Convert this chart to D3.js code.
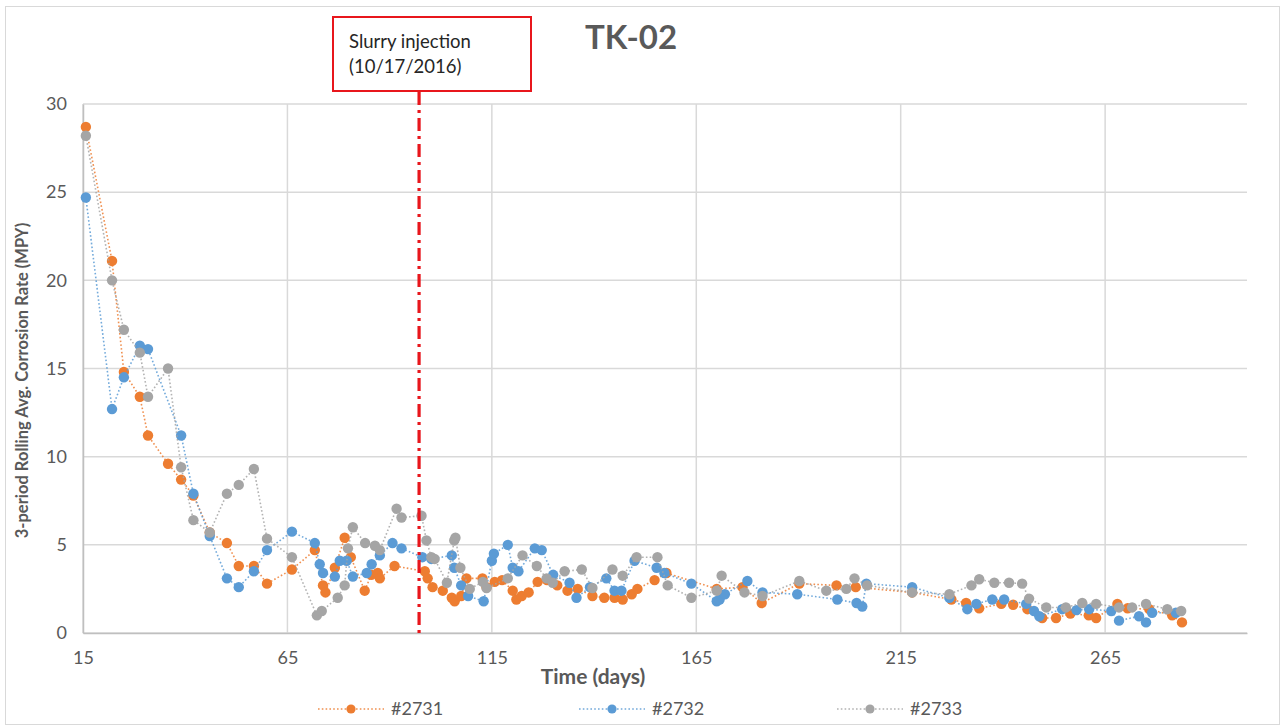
<!DOCTYPE html>
<html>
<head>
<meta charset="utf-8">
<script src="https://cdn.jsdelivr.net/npm/d3@7"></script>
<style>
  html, body { margin: 0; padding: 0; background: #fff; }
  text { font-family: Lato, "Open Sans", sans-serif; }
</style>
</head>
<body>
<svg id="chart" width="1285" height="726"></svg>
<script>
// Corrosion coupon readings, 3-period rolling average (MPY) against time in days
const seriesNames = ["#2731", "#2732", "#2733"];
const seriesColors = ["#ED7D31", "#5B9BD5", "#A5A5A5"];

const days2731 = [15.7,22.1,25.0,28.9,30.9,35.8,39.0,42.0,46.0,50.2,53.1,56.8,60.0,66.1,71.7,73.7,74.3,76.6,79.0,80.5,83.9,85.5,87.1,87.6,91.2,98.6,99.3,100.5,103.0,105.2,105.9,107.5,108.8,112.7,113.7,115.7,117.5,120.1,121.0,122.3,124.0,126.2,128.5,131.0,133.5,136.0,139.6,142.5,145.0,147.0,149.2,150.6,154.8,157.7,170.0,176.3,181.0,190.2,199.3,204.0,217.8,227.4,231.0,234.2,239.6,242.5,246.0,249.6,253.0,256.5,261.0,262.8,268.0,270.5,275.8,281.4,283.8];
const vals2731 = [28.7,21.1,14.8,13.4,11.2,9.6,8.7,7.8,5.7,5.1,3.8,3.8,2.8,3.6,4.7,2.7,2.3,3.7,5.4,4.3,2.4,3.3,3.4,3.1,3.8,3.5,3.1,2.6,2.4,2.0,1.8,2.1,3.1,3.1,2.6,2.9,3.0,2.4,1.9,2.1,2.3,2.9,3.0,2.7,2.4,2.5,2.1,2.0,2.0,1.9,2.2,2.5,3.0,3.4,2.5,2.6,1.7,2.8,2.7,2.6,2.3,1.9,1.7,1.4,1.65,1.6,1.35,0.85,0.85,1.1,1.0,0.85,1.65,1.4,1.35,1.0,0.6];

const days2732 = [15.7,22.1,25.0,28.9,30.9,39.0,42.0,46.0,50.2,53.1,56.8,60.0,66.1,71.7,72.9,73.7,76.6,77.8,79.5,81.0,84.4,85.6,87.6,90.7,92.9,98.0,100.2,105.2,105.8,107.5,109.2,113.0,115.0,115.5,118.9,120.1,121.5,125.5,127.2,130.0,134.0,135.7,139.0,143.0,145.0,146.7,149.9,155.3,157.2,163.8,170.0,170.7,172.0,177.5,181.2,189.7,199.5,204.2,205.6,206.6,217.8,226.9,231.3,233.5,237.4,240.3,245.7,247.6,248.9,254.5,258.0,261.1,266.5,268.4,273.3,275.0,276.5,282.3];
const vals2732 = [24.7,12.7,14.5,16.3,16.1,11.2,7.9,5.5,3.1,2.6,3.5,4.7,5.75,5.1,3.9,3.4,3.2,4.1,4.1,3.2,3.4,3.9,4.4,5.1,4.8,4.3,4.2,4.4,3.7,2.7,2.1,1.8,4.1,4.5,5.0,3.7,3.5,4.8,4.7,3.3,2.85,2.0,2.6,3.1,2.4,2.4,4.1,3.7,3.4,2.8,1.8,1.9,2.2,2.95,2.3,2.2,1.9,1.7,1.5,2.8,2.6,2.0,1.35,1.65,1.9,1.9,1.65,1.25,0.95,1.35,1.3,1.35,1.25,0.7,0.95,0.6,1.15,1.15];

const days2733 = [15.7,22.1,25.0,28.9,30.9,35.8,39.0,42.0,46.0,50.2,53.1,56.8,60.0,66.1,72.2,73.4,77.3,79.0,79.8,81.0,84.0,86.4,87.6,91.7,92.9,97.8,99.0,100.2,101.0,104.0,105.8,106.1,107.3,109.6,112.8,113.7,118.9,122.5,126.0,128.4,129.9,132.8,137.0,139.6,144.5,147.0,150.4,155.5,158.0,163.8,170.0,171.2,176.8,181.2,190.2,196.8,201.7,203.7,206.8,217.8,226.9,232.3,234.2,237.9,241.5,244.7,246.4,250.6,255.4,259.4,262.8,268.4,271.6,275.0,280.2,283.6];
const vals2733 = [28.2,20.0,17.2,15.9,13.4,15.0,9.4,6.4,5.7,7.9,8.4,9.3,5.35,4.3,1.0,1.25,2.0,2.7,4.8,6.0,5.1,4.95,4.7,7.05,6.55,6.65,5.25,4.3,4.2,2.85,5.25,5.4,3.7,2.5,2.9,2.55,3.1,4.4,3.8,3.1,2.85,3.5,3.6,2.55,3.6,3.25,4.3,4.3,2.7,2.0,2.4,3.25,2.3,2.1,2.95,2.4,2.5,3.1,2.7,2.3,2.2,2.7,3.05,2.85,2.85,2.8,1.95,1.45,1.45,1.7,1.65,1.45,1.45,1.65,1.35,1.25];

const xTicks = [15, 65, 115, 165, 215, 265];
const yTicks = [0, 5, 10, 15, 20, 25, 30];
const xDomain = [15, 299.7];
const yDomain = [0, 30];

const chartTitle = "TK-02";
const xTitle = "Time (days)";
const yTitle = "3-period Rolling Avg. Corrosion Rate (MPY)";
const eventDay = 97.2;
const eventLines = ["Slurry injection", "(10/17/2016)"];

// ---------------------------------------------------------------
const svg = d3.select("#chart");
const plot = { left: 83, right: 1247, top: 104, bottom: 633 };
const textColor = "#595959";
const gridColor = "#D9D9D9";

// chart area border
svg.append("rect")
  .attr("x", 5.5).attr("y", 6.5)
  .attr("width", 1274).attr("height", 718)
  .attr("fill", "#fff").attr("stroke", "#D9D9D9").attr("stroke-width", 1);

const x = d3.scaleLinear().domain(xDomain).range([plot.left, plot.right]);
const y = d3.scaleLinear().domain(yDomain).range([plot.bottom, plot.top]);

// gridlines
const grid = svg.append("g");
grid.selectAll("line.h").data(yTicks).join("line")
  .attr("x1", plot.left).attr("x2", plot.right)
  .attr("y1", d => y(d)).attr("y2", d => y(d))
  .attr("stroke", gridColor).attr("stroke-width", 1.5);
grid.selectAll("line.v").data(xTicks).join("line")
  .attr("x1", d => x(d)).attr("x2", d => x(d))
  .attr("y1", plot.top).attr("y2", plot.bottom)
  .attr("stroke", gridColor).attr("stroke-width", 1.5);

// axes (tick labels only, lines come from the grid)
const xAxis = svg.append("g")
  .attr("transform", `translate(0,${plot.bottom})`)
  .call(d3.axisBottom(x).tickValues(xTicks).tickSize(0).tickPadding(18));
xAxis.select(".domain").attr("stroke", "#BFBFBF").attr("stroke-width", 1.5);
xAxis.selectAll("text").attr("fill", textColor).style("font-size", "18px")
  .style("font-family", "Lato, sans-serif");

const yAxis = svg.append("g")
  .attr("transform", `translate(${plot.left},0)`)
  .call(d3.axisLeft(y).tickValues(yTicks).tickSize(0).tickPadding(16));
yAxis.select(".domain").attr("stroke", "#BFBFBF").attr("stroke-width", 1.5);
yAxis.selectAll("text").attr("fill", textColor).style("font-size", "18px")
  .style("font-family", "Lato, sans-serif");

// axis titles
svg.append("text")
  .attr("x", 593).attr("y", 684)
  .attr("text-anchor", "middle")
  .attr("fill", textColor)
  .style("font-size", "21px").style("font-weight", "bold")
  .text(xTitle);

svg.append("text")
  .attr("transform", `translate(28,${(plot.top + plot.bottom) / 2 + 12}) rotate(-90)`)
  .attr("text-anchor", "middle")
  .attr("fill", textColor)
  .style("font-size", "16.5px").style("font-weight", "bold")
  .text(yTitle);

// chart title
svg.append("text")
  .attr("x", 631).attr("y", 49)
  .attr("text-anchor", "middle")
  .attr("fill", textColor)
  .style("font-size", "33px").style("font-weight", "bold")
  .text(chartTitle);

// series
const seriesData = [
  days2731.map((d, i) => ({ day: d, value: vals2731[i] })),
  days2732.map((d, i) => ({ day: d, value: vals2732[i] })),
  days2733.map((d, i) => ({ day: d, value: vals2733[i] }))
];

const line = d3.line().x(d => x(d.day)).y(d => y(d.value));

seriesData.forEach((pts, i) => {
  const g = svg.append("g");
  g.append("path")
    .datum(pts)
    .attr("d", line)
    .attr("fill", "none")
    .attr("stroke", seriesColors[i])
    .attr("stroke-width", 1.6)
    .attr("stroke-dasharray", "1.6,2.2")
    .attr("opacity", 0.85);
  g.selectAll("circle").data(pts).join("circle")
    .attr("cx", d => x(d.day)).attr("cy", d => y(d.value))
    .attr("r", 5.2)
    .attr("fill", seriesColors[i]);
});

// event marker: vertical dash-dot line and annotation box
svg.append("line")
  .attr("x1", x(eventDay)).attr("x2", x(eventDay))
  .attr("y1", 92).attr("y2", plot.bottom + 2)
  .attr("stroke", "#E8161C").attr("stroke-width", 3.2)
  .attr("stroke-dasharray", "13,5,3,5");

svg.append("rect")
  .attr("x", 333).attr("y", 17)
  .attr("width", 198).attr("height", 74)
  .attr("fill", "#fff").attr("stroke", "#E8161C").attr("stroke-width", 2);

svg.append("text")
  .attr("x", 349).attr("y", 48)
  .attr("fill", "#262626")
  .style("font-size", "18.5px")
  .selectAll("tspan").data(eventLines).join("tspan")
  .attr("x", 349).attr("dy", (d, i) => i === 0 ? 0 : 25)
  .text(d => d);

// legend
const legendX = [351, 612, 870];
const legendY = 709;
seriesNames.forEach((name, i) => {
  const g = svg.append("g");
  g.append("line")
    .attr("x1", legendX[i] - 33).attr("x2", legendX[i] + 33)
    .attr("y1", legendY).attr("y2", legendY)
    .attr("stroke", seriesColors[i]).attr("stroke-width", 1.6)
    .attr("stroke-dasharray", "1.6,2.2").attr("opacity", 0.85);
  g.append("circle")
    .attr("cx", legendX[i]).attr("cy", legendY).attr("r", 4.6)
    .attr("fill", seriesColors[i]);
  g.append("text")
    .attr("x", legendX[i] + 40).attr("y", legendY + 6)
    .attr("fill", textColor)
    .style("font-size", "18px")
    .text(name);
});
</script>
</body>
</html>
